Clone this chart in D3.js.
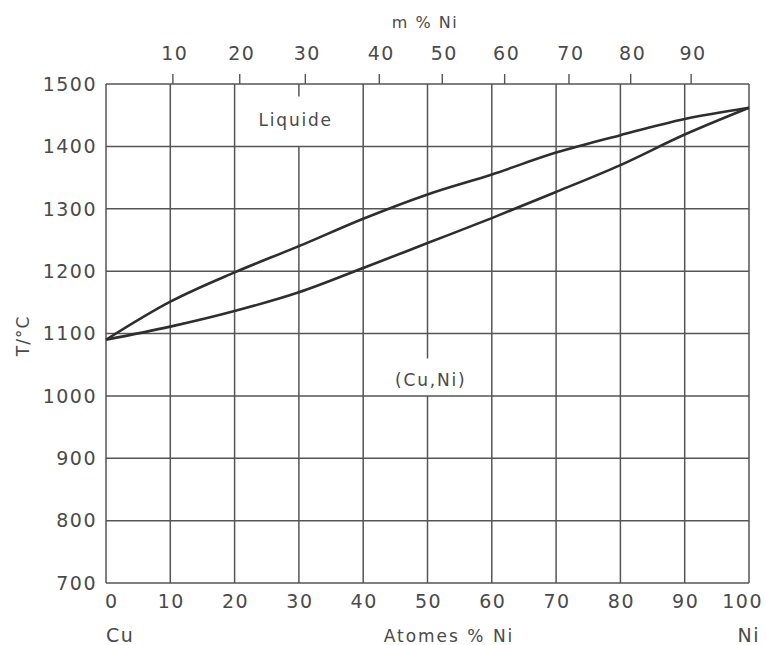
<!DOCTYPE html>
<html><head><meta charset="utf-8">
<script src="https://cdn.jsdelivr.net/npm/d3@7"></script>
<style>
body{margin:0;background:#fff;}
text{font-family:"DejaVu Sans",sans-serif;fill:#4a4a4a;}
</style></head>
<body>
<svg id="c" width="766" height="645"></svg>
<script>
// ---- data ----
const atPct = [0,10,20,30,40,50,60,70,80,90,100];
const liquidus = [1090,1151,1198,1240,1284,1323,1355,1390,1418,1444,1462];
const solidus  = [1090,1111,1136,1166,1205,1245,1285,1327,1370,1419,1462];
const bottomTicks = [0,10,20,30,40,50,60,70,80,90,100];
const yTicks = [700,800,900,1000,1100,1200,1300,1400,1500];
const massTickLabels = [10,20,30,40,50,60,70,80,90];
const massTickAt = [10.4,20.8,31,42.5,52.3,62,72,81.6,91];
const gridGaps = [{at:30, from:1400, to:1480},{at:50, from:1000, to:1060}];
const regionLabels = [{text:"Liquide", at:29.5, T:1442},{text:"(Cu,Ni)", at:50.5, T:1025}];

// ---- drawing ----
const svg = d3.select("#c");
const x = d3.scaleLinear().domain([0,100]).range([106,749]);
const y = d3.scaleLinear().domain([700,1500]).range([583,84]);
const gridCol = "#555";
const fs = 19, ls = "1.5px";

// horizontal grid
svg.append("g").selectAll("line").data(yTicks).join("line")
  .attr("x1", x(0)).attr("x2", x(100))
  .attr("y1", d=>y(d)).attr("y2", d=>y(d))
  .attr("stroke", gridCol).attr("stroke-width", 1.5);

// vertical grid with gaps
const vSegs = [];
bottomTicks.forEach(t=>{
  const g = gridGaps.find(d=>d.at===t);
  if(g){ vSegs.push({at:t,a:700,b:g.from}); vSegs.push({at:t,a:g.to,b:1500}); }
  else vSegs.push({at:t,a:700,b:1500});
});
svg.append("g").selectAll("line").data(vSegs).join("line")
  .attr("x1", d=>x(d.at)).attr("x2", d=>x(d.at))
  .attr("y1", d=>y(d.a)).attr("y2", d=>y(d.b))
  .attr("stroke", gridCol).attr("stroke-width", 1.5);

// y labels
svg.append("g").selectAll("text").data(yTicks).join("text")
  .attr("x", 97).attr("y", d=>y(d)).attr("dy","0.36em")
  .attr("text-anchor","end").attr("font-size",fs).attr("letter-spacing",ls)
  .text(d=>d);

// bottom labels
svg.append("g").selectAll("text").data(bottomTicks).join("text")
  .attr("x", d=> d===0 ? x(0)-1 : d===100 ? x(100)+14 : x(d)+1)
  .attr("y", 608)
  .attr("text-anchor", d=> d===0 ? "start" : d===100 ? "end" : "middle")
  .attr("font-size",fs).attr("letter-spacing",ls).text(d=>d);

// top mass % axis
const topAxis = svg.append("g");
topAxis.selectAll("line").data(massTickAt).join("line")
  .attr("x1", d=>x(d)).attr("x2", d=>x(d))
  .attr("y1", y(1500)).attr("y2", y(1500)-10)
  .attr("stroke", gridCol).attr("stroke-width", 1.4);
topAxis.selectAll("text").data(massTickLabels).join("text")
  .attr("x", (d,i)=>x(massTickAt[i])+2).attr("y", 60)
  .attr("text-anchor","middle").attr("font-size",fs).attr("letter-spacing",ls)
  .text(d=>d);
svg.append("text").attr("x",425).attr("y",28).attr("text-anchor","middle")
  .attr("font-size",16).attr("letter-spacing","1.5px").text("m % Ni");

// axis titles
svg.append("text").attr("transform","translate(29,336) rotate(-90)")
  .attr("text-anchor","middle").attr("font-size",17).attr("letter-spacing","1px").text("T/°C");
svg.append("text").attr("x",x(0)).attr("y",642).attr("font-size",fs).attr("letter-spacing",ls).text("Cu");
svg.append("text").attr("x",449).attr("y",642).attr("text-anchor","middle").attr("font-size",17).attr("letter-spacing","2px").text("Atomes % Ni");
svg.append("text").attr("x",760).attr("y",642).attr("text-anchor","end").attr("font-size",fs).attr("letter-spacing",ls).text("Ni");

// region labels
svg.append("g").selectAll("text").data(regionLabels).join("text")
  .attr("x", d=>x(d.at)).attr("y", d=>y(d.T)).attr("dy","0.36em")
  .attr("text-anchor","middle").attr("font-size",17).attr("letter-spacing","1.8px")
  .text(d=>d.text);

// curves
const line = d3.line().x((d,i)=>x(atPct[i])).y(d=>y(d)).curve(d3.curveMonotoneX);
[liquidus, solidus].forEach(s=>{
  svg.append("path").attr("d", line(s)).attr("fill","none")
    .attr("stroke","#2e2e2e").attr("stroke-width",2.6);
});
</script>
</body></html>
